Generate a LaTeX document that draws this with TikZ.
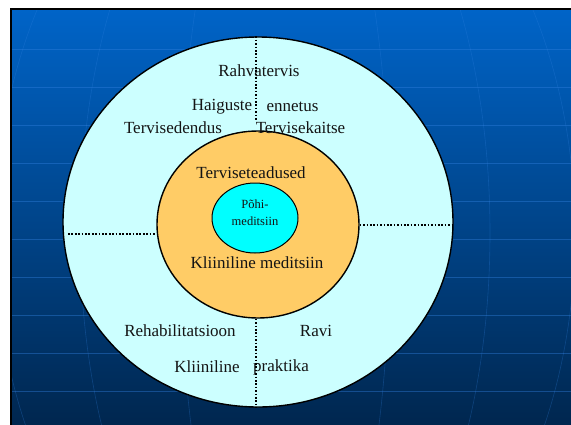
\documentclass[tikz,border=0pt]{standalone}
\usepackage{fontspec}
\setmainfont{Liberation Serif}
\usetikzlibrary{shapes.geometric}
\definecolor{outerfill}{RGB}{204,255,255}
\definecolor{midfill}{RGB}{255,204,102}
\definecolor{corefill}{RGB}{0,255,255}
\definecolor{bgtop}{RGB}{0,100,200}
\definecolor{bgbot}{RGB}{0,38,78}
\definecolor{gridc}{RGB}{50,130,225}
\definecolor{txt}{RGB}{20,20,20}
\begin{document}
\begin{tikzpicture}[x=1pt,y=-1pt,
  ring/.style={ellipse,draw=black,line width=1.4pt,inner sep=0pt},
  lbl/.style={font=\fontsize{17}{20}\selectfont,inner sep=0pt,text=txt},
  small/.style={font=\fontsize{12.5}{17}\selectfont,inner sep=0pt,text=txt,align=center},
  sep/.style={draw=black,line width=1.8pt,dash pattern=on 1.7pt off 1.7pt},
  gridline/.style={draw=gridc,line width=0.6pt,opacity=0.4},
  meridian/.style={draw=gridc,line width=0.6pt,opacity=0.28}]
\useasboundingbox (0,0) rectangle (571,424);
\fill[white] (0,0) rectangle (571,424);
\shade[top color=bgtop,bottom color=bgbot] (11,9) rectangle (575,428);
\begin{scope}
  \clip (11,9) rectangle (571,424);
  \foreach \yy in {49,87,...,393} \draw[gridline] (11,\yy) -- (571,\yy);
  \foreach \r in {105,205,290,360,410} \draw[meridian] (285,233) ellipse [x radius=\r, y radius=430];
\end{scope}
\draw[black,line width=2pt] (575,9) -- (11,9) -- (11,428);

\node[ring,fill=outerfill,minimum width=390pt,minimum height=370pt] (outer) at (258,222) {};
\node[ring,fill=midfill,minimum width=202pt,minimum height=187pt] (mid) at (258,224.5) {};
\node[ring,fill=corefill,minimum width=86pt,minimum height=70pt,line width=1pt] (core) at (255,218) {};

\node[lbl] (rahva) at (259,71) {Rahvatervis};
\node[lbl] (haig) at (222,107) {Haiguste};
\node[lbl] (enne) at (292.5,107) {ennetus};
\node[lbl] (tdend) at (173,128) {Tervisedendus};
\node[lbl] (tkait) at (300.5,128) {Tervisekaitse};
\node[lbl] (tead) at (251,173) {Terviseteadused};
\node[small] (pohi) at (255,212.5) {Põhi-\\meditsiin};
\node[lbl] (klmed) at (257,263) {Kliiniline meditsiin};
\node[lbl] (rehab) at (180,331) {Rehabilitatsioon};
\node[lbl] (ravi) at (316,331) {Ravi};
\node[lbl] (kli) at (207,367) {Kliiniline};
\node[lbl] (prak) at (281,367) {praktika};

\coordinate (topend) at (256,121);
\coordinate (botx) at (256,0);
\coordinate (leftend) at (68,234);
\coordinate (righty) at (0,225);
\draw[sep] (topend |- outer.north) -- (topend);
\draw[sep] (botx |- mid.south) -- (botx |- outer.south);
\draw[sep] (leftend) -- (leftend -| mid.west);
\draw[sep] (righty -| mid.east) -- (righty -| outer.east);
\end{tikzpicture}
\end{document}
